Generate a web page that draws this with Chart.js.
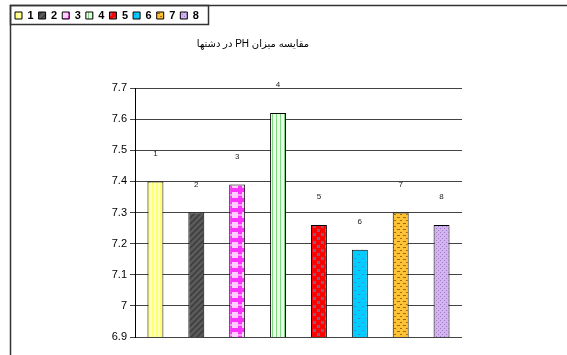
<!DOCTYPE html>
<html>
<head>
<meta charset="utf-8">
<script src="https://cdn.jsdelivr.net/npm/chart.js@4"></script>
<style>
  html, body { margin: 0; padding: 0; background: #fff; }
  #wrap { width: 567px; height: 355px; }
</style>
</head>
<body>
<div id="wrap"><canvas id="phChart" width="567" height="355"></canvas></div>
<script>
// data
const stations = ['1', '2', '3', '4', '5', '6', '7', '8'];
const phValues = [7.40, 7.30, 7.39, 7.62, 7.26, 7.18, 7.30, 7.26];
const yTicks = [6.9, 7.0, 7.1, 7.2, 7.3, 7.4, 7.5, 7.6, 7.7];
const chartTitle = 'مقایسه میزان PH در دشتها';

// small tile patterns, like the excel fills
function makePattern(w, h, draw) {
  const c = document.createElement('canvas');
  c.width = w; c.height = h;
  const g = c.getContext('2d');
  draw(g);
  return g.createPattern(c, 'repeat');
}

const ctx = document.getElementById('phChart').getContext('2d');

const fills = [
  // 1 yellow vertical stripes
  makePattern(4, 4, g => { g.fillStyle = '#ffff70'; g.fillRect(0, 0, 4, 4); g.fillStyle = '#ffffc0'; g.fillRect(2, 0, 2, 4); }),
  // 2 dark grey diagonal
  makePattern(6, 6, g => {
    g.fillStyle = '#5a5a5a'; g.fillRect(0, 0, 6, 6);
    g.strokeStyle = '#3c3c3c'; g.lineWidth = 1.5;
    g.beginPath(); g.moveTo(0, 6); g.lineTo(6, 0); g.moveTo(-3, 3); g.lineTo(3, -3); g.moveTo(3, 9); g.lineTo(9, 3); g.stroke();
  }),
  // 3 magenta checks
  makePattern(10, 10, g => {
    g.fillStyle = '#ff33ff'; g.fillRect(0, 0, 10, 10);
    g.fillStyle = '#ffd0ff'; g.fillRect(2, 2, 6, 6);
    g.fillStyle = '#ff99ff'; g.fillRect(0, 4, 2, 2); g.fillRect(8, 4, 2, 2);
  }),
  // 4 green vertical stripes
  makePattern(4, 4, g => { g.fillStyle = '#e6ffe6'; g.fillRect(0, 0, 4, 4); g.fillStyle = '#7ed67e'; g.fillRect(0, 0, 1, 4); }),
  // 5 red with grey dots
  makePattern(8, 8, g => {
    g.fillStyle = '#ff0000'; g.fillRect(0, 0, 8, 8);
    g.fillStyle = '#a05070'; g.fillRect(1, 1, 3, 3); g.fillRect(5, 5, 3, 3);
  }),
  // 6 cyan with sparse dots
  makePattern(8, 8, g => {
    g.fillStyle = '#00ccff'; g.fillRect(0, 0, 8, 8);
    g.fillStyle = '#3a8fbf'; g.fillRect(2, 2, 2, 1); g.fillRect(6, 6, 2, 1);
  }),
  // 7 orange with brown dashes
  makePattern(6, 6, g => {
    g.fillStyle = '#ffc233'; g.fillRect(0, 0, 6, 6);
    g.fillStyle = '#9a6a10'; g.fillRect(1, 1, 3, 1); g.fillRect(4, 4, 3, 1); g.fillRect(-2, 4, 2, 1);
  }),
  // 8 lavender dotted
  makePattern(4, 4, g => {
    g.fillStyle = '#d2b4ee'; g.fillRect(0, 0, 4, 4);
    g.fillStyle = '#a27ccc'; g.fillRect(0, 0, 1, 1); g.fillRect(2, 2, 1, 1);
  })
];

const fontFam = 'Arial, "Liberation Sans", "DejaVu Sans", sans-serif';

// frame lines + legend box
const framePlugin = {
  id: 'frame',
  afterLayout(chart) {
    // move the title a bit right, like the original
    if (chart.titleBlock) {
      chart.titleBlock.left += 17;
      chart.titleBlock.right += 17;
    }
  },
  afterDraw(chart) {
    const c = chart.ctx;
    c.save();
    c.strokeStyle = '#333';
    c.lineWidth = 1.5;
    c.beginPath();
    c.moveTo(10.5, 355);
    c.lineTo(10.5, 5.5);
    c.lineTo(567, 5.5);
    c.stroke();
    const boxes = chart.legend.legendHitBoxes;
    const last = boxes[boxes.length - 1];
    const right = Math.round(last.left + last.width + 9) + 0.5;
    c.strokeRect(10.5, 5.5, right - 10.5, 19);
    c.restore();
  }
};

// number above every bar
const barLabels = {
  id: 'barLabels',
  afterDatasetsDraw(chart) {
    const c = chart.ctx;
    const meta = chart.getDatasetMeta(0);
    c.save();
    c.font = '8px ' + fontFam;
    c.fillStyle = '#222';
    c.textAlign = 'center';
    c.textBaseline = 'middle';
    meta.data.forEach((bar, i) => {
      c.fillText(stations[i], bar.x, bar.y - 28);
    });
    c.restore();
  }
};

new Chart(ctx, {
  type: 'bar',
  data: {
    labels: stations,
    datasets: [{
      label: 'PH',
      data: phValues,
      backgroundColor: fills,
      borderColor: '#000',
      borderWidth: 1,
      borderSkipped: false,
      categoryPercentage: 1,
      barPercentage: 0.39
    }]
  },
  options: {
    responsive: false,
    animation: false,
    layout: { padding: { left: 10, top: 5, right: 105, bottom: 18 } },
    plugins: {
      tooltip: { enabled: false },
      legend: {
        position: 'top',
        align: 'start',
        weight: 3000,
        labels: {
          boxWidth: 7,
          boxHeight: 7,
          padding: 5,
          color: '#000',
          font: { family: fontFam, size: 11, weight: 'bold' },
          generateLabels: () => stations.map((s, i) => ({
            text: s,
            fillStyle: fills[i],
            strokeStyle: '#000',
            lineWidth: 1,
            index: i
          }))
        }
      },
      title: {
        display: true,
        // right-to-left embedding so the Persian words keep their order
        text: '\u202B' + chartTitle + '\u202C',
        color: '#000',
        weight: 500,
        font: { family: fontFam, size: 10, weight: 'normal' },
        padding: { top: 7, bottom: 38 }
      }
    },
    scales: {
      x: { display: false },
      y: {
        min: 6.9,
        max: 7.7,
        afterFit: s => { s.width = 125; },
        afterBuildTicks: s => { s.ticks = yTicks.map(v => ({ value: v })); },
        ticks: {
          color: '#000',
          padding: 3,
          font: { family: fontFam, size: 11 },
          callback: v => String(+v.toFixed(1))
        },
        grid: { color: '#444', lineWidth: 1, tickLength: 5 },
        border: { color: '#000', width: 1 }
      }
    }
  },
  plugins: [framePlugin, barLabels]
});
</script>
</body>
</html>
